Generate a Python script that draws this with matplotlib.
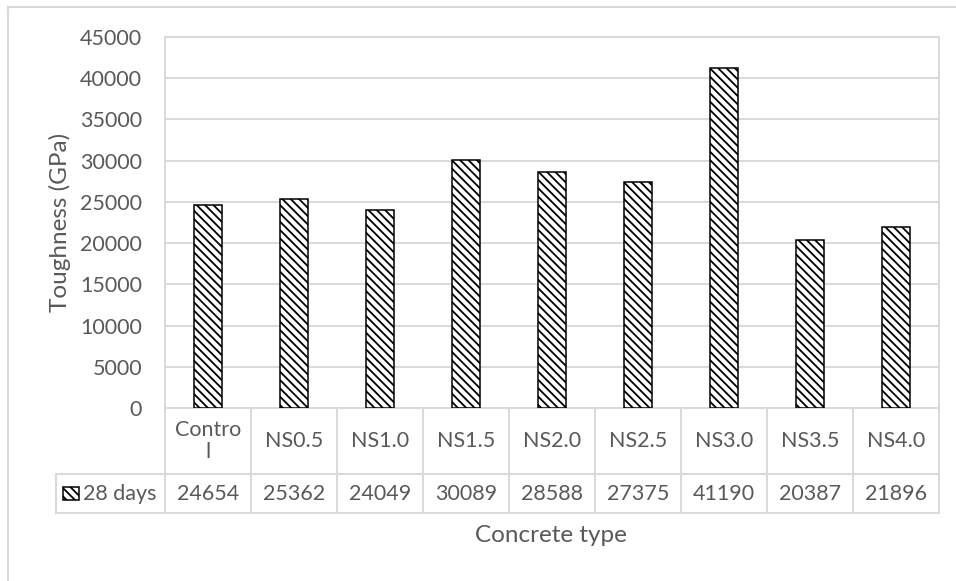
import numpy as np
import matplotlib
matplotlib.use("Agg")
import matplotlib.pyplot as plt
from matplotlib.patches import Rectangle
from matplotlib.lines import Line2D

# toughness at 28 days for each concrete mix
categories = ["Contro\nl", "NS0.5", "NS1.0", "NS1.5", "NS2.0", "NS2.5", "NS3.0", "NS3.5", "NS4.0"]
toughness_28d = [24654, 25362, 24049, 30089, 28588, 27375, 41190, 20387, 21896]
series_name = "28 days"
y_ticks = list(range(0, 45001, 5000))

TEXT = "#595959"
GRID = "#d9d9d9"
HATCH = "\\\\\\\\"
FS = 15.5        # tick and table text
FS_TITLE = 17.5  # axis titles

plt.rcParams['font.family'] = ['Lato', 'DejaVu Sans']
plt.rcParams['hatch.linewidth'] = 1.3
plt.rcParams['hatch.color'] = 'black'

W, H = 956, 581
fig = plt.figure(figsize=(W / 100, H / 100), dpi=100)

# plot area in pixel terms
L, R, T, B = 165, 939, 37, 408
ax = fig.add_axes([L / W, 1 - B / H, (R - L) / W, (B - T) / H])

x = np.arange(len(categories))
ax.bar(x, toughness_28d, width=0.33, color="white", edgecolor="black",
       linewidth=1.1, hatch=HATCH, zorder=3)

ax.set_xlim(-0.5, len(categories) - 0.5)
ax.set_ylim(0, 45000)
ax.set_yticks(y_ticks)
ax.set_yticklabels([str(v) for v in y_ticks], fontsize=FS, color=TEXT)
ax.tick_params(axis="y", length=0, pad=16.5)
ax.set_xticks([])
ax.yaxis.grid(True, color=GRID, linewidth=1.4, zorder=0)
for s in ax.spines.values():
    s.set_color(GRID)
    s.set_linewidth(1.4)


def ya(ypx):
    # pixel row -> axes fraction
    return (B - ypx) / (B - T)


def xa(xpx):
    return (xpx - L) / (R - L)


ax.set_ylabel("Toughness (GPa)", fontsize=FS_TITLE, color=TEXT)
ax.yaxis.set_label_coords(xa(71), 0.5)

row1_bot, row2_bot = 474, 513
hdr_left = 56
xt = ax.get_xaxis_transform()

# data table under the axis
lines = [
    ((xa(hdr_left), xa(R)), (ya(row1_bot), ya(row1_bot))),
    ((xa(hdr_left), xa(R)), (ya(row2_bot), ya(row2_bot))),
    ((xa(hdr_left), xa(hdr_left)), (ya(row1_bot), ya(row2_bot))),
]
for xs, ys in lines:
    ax.add_line(Line2D(xs, ys, transform=ax.transAxes, color=GRID,
                       linewidth=1.4, clip_on=False))
for i in range(len(categories) + 1):
    ax.add_line(Line2D([i - 0.5, i - 0.5], [ya(B), ya(row2_bot)], transform=xt,
                       color=GRID, linewidth=1.4, clip_on=False))

for i, (c, v) in enumerate(zip(categories, toughness_28d)):
    ax.text(i, ya((B + row1_bot) / 2), c, transform=xt, ha="center", va="center",
            fontsize=FS, color=TEXT, linespacing=1.1)
    ax.text(i, ya((row1_bot + row2_bot) / 2), str(v), transform=xt, ha="center",
            va="center", fontsize=FS, color=TEXT)

# legend key + series name in the row header
ax.add_patch(Rectangle((xa(63), ya(500)), xa(79) - xa(63), ya(487) - ya(500),
                       transform=ax.transAxes, facecolor="white", edgecolor="black",
                       linewidth=1.1, hatch=HATCH, clip_on=False))
ax.text(xa(83), ya((row1_bot + row2_bot) / 2), series_name, transform=ax.transAxes,
        ha="left", va="center", fontsize=FS, color=TEXT)

fig.text(551 / W, 1 - 535 / H, "Concrete type", ha="center", va="center",
         fontsize=FS_TITLE, color=TEXT)

# chart frame
fig.add_artist(Line2D([8 / W, 8 / W], [1 - 7 / H, 0], transform=fig.transFigure,
                      color=GRID, linewidth=1.5))
fig.add_artist(Line2D([8 / W, 1], [1 - 7 / H, 1 - 7 / H], transform=fig.transFigure,
                      color=GRID, linewidth=1.5))

fig.savefig("out.png", dpi=100)
